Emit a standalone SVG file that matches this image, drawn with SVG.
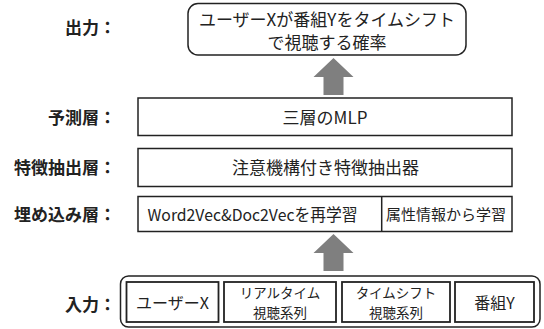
<svg xmlns="http://www.w3.org/2000/svg" width="544" height="329" viewBox="0 0 544 329">
<style>
text{font-family:"Noto Sans CJK JP","Noto Sans",sans-serif;fill:#222;dominant-baseline:central}
.lbl{font-weight:bold;font-size:17px;text-anchor:end}
.t17{font-size:17px;text-anchor:middle}
.t16{font-size:16px;text-anchor:middle}
.t15{font-size:15px;text-anchor:middle}
.t14{font-size:13.5px;text-anchor:middle}
.box{fill:#fff;stroke:#222;stroke-width:1.5}
.inner{fill:#fff;stroke:#222;stroke-width:1.8}
.arrow{fill:#7f7f7f}
</style>
<rect width="544" height="329" fill="#fff"/>
<g id="labels">
<text class="lbl" x="116" y="26">出力：</text>
<text class="lbl" x="116" y="116">予測層：</text>
<text class="lbl" x="116" y="166">特徴抽出層：</text>
<text class="lbl" x="116" y="213">埋め込み層：</text>
<text class="lbl" x="116" y="303">入力：</text>
</g>
<g id="output">
<rect class="box" x="188" y="3.5" width="278" height="51.5" rx="10"/>
<text class="t17" x="327" y="18">ユーザーXが番組Yをタイムシフト</text>
<text class="t17" x="327" y="41">で視聴する確率</text>
</g>
<g id="mlp">
<rect class="box" x="138" y="98" width="374" height="37.5"/>
<text class="t17" x="325" y="116.5">三層のMLP</text>
</g>
<g id="feature">
<rect class="box" x="138" y="148.5" width="374" height="38"/>
<text class="t17" x="325.5" y="166">注意機構付き特徴抽出器</text>
</g>
<g id="embedding">
<rect class="box" x="138" y="196.5" width="374" height="35"/>
<line x1="381.7" y1="196.5" x2="381.7" y2="231.5" stroke="#222" stroke-width="1.5"/>
<text x="147.5" y="213.5" style="font-size:16.5px" textLength="210" lengthAdjust="spacingAndGlyphs">Word2Vec&amp;Doc2Vecを再学習</text>
<text class="t15" x="446" y="213">属性情報から学習</text>
</g>
<g id="input">
<rect class="box" x="120.5" y="276" width="419.5" height="51" rx="8"/>
<g id="in-user">
<rect class="inner" x="126.5" y="282" width="92" height="40"/>
<text class="t16" x="172.5" y="302">ユーザーX</text>
</g>
<g id="in-realtime">
<rect class="inner" x="224" y="282" width="112" height="40"/>
<text class="t14" x="280" y="292">リアルタイム</text>
<text class="t14" x="280" y="312">視聴系列</text>
</g>
<g id="in-timeshift">
<rect class="inner" x="342" y="282" width="108" height="40"/>
<text class="t14" x="396" y="292">タイムシフト</text>
<text class="t14" x="396" y="312">視聴系列</text>
</g>
<g id="in-program">
<rect class="inner" x="455" y="282" width="79" height="40"/>
<text class="t16" x="494.5" y="302">番組Y</text>
</g>
</g>
<g id="connectors">
<polygon class="arrow" points="333.5,58 353.5,77 343.5,77 343.5,95 323.5,95 323.5,77 313.5,77"/>
<polygon class="arrow" points="333.5,234 353.5,253 343.5,253 343.5,271 323.5,271 323.5,253 313.5,253"/>
</g>
</svg>
